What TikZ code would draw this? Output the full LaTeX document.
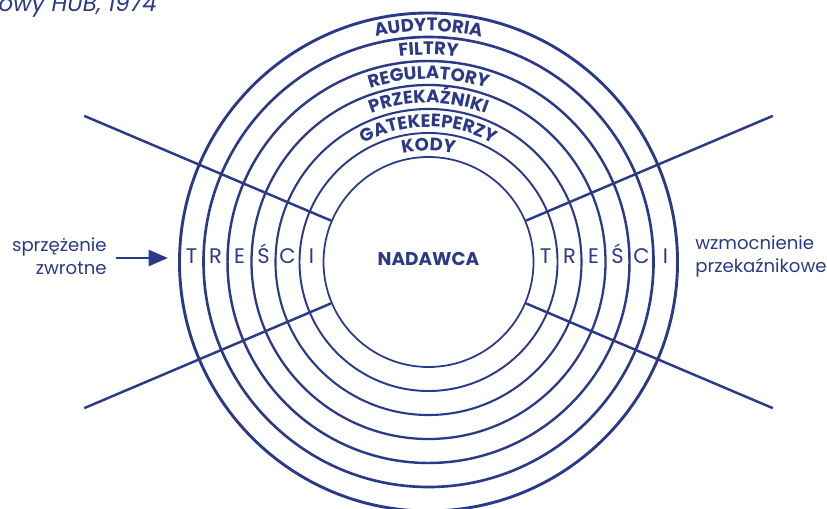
\documentclass[tikz,border=0pt]{standalone}
\usepackage{fontspec}
\setmainfont{Poppins}
\usetikzlibrary{arrows.meta,decorations.text}
\definecolor{hubblue}{RGB}{43,57,137}
\newcommand\ringfont{\bfseries\fontsize{10.3}{12}\selectfont\color{hubblue}}

\begin{document}
\begin{tikzpicture}[x=0.02cm, y=0.02cm,
    every node/.style={inner sep=0pt, text=hubblue},
    spoke/.style={draw=hubblue, line width=1.4pt},
    letter/.style={anchor=base, font=\fontsize{12}{14}\selectfont},
    side/.style={font=\fontsize{10.3}{13}\selectfont},
    ringtext/.style={decorate, decoration={text along path, text align=center, text={|\ringfont|#1}}},
    fbarrow/.style={draw=hubblue, line width=1.7pt, -{Triangle[length=11pt,width=9pt]}}]
  \useasboundingbox (0,0) rectangle (827,508);
  \coordinate (c) at (428.5,246);
  % HUB model rings
  \foreach \r/\w in {105/1.0, 129/1.1, 153/1.2, 177/1.3, 201/1.4, 225/1.5, 249/1.65} {
    \draw[hubblue, line width=\w pt] (c) circle (\r);
  }
  \node[font=\bfseries\fontsize{10.5}{12}\selectfont] (nadawca) at (428.5,249) {NADAWCA};
  % labels along the rings
  \foreach \r/\t in {231/AUDYTORIA, 207/FILTRY, 183/REGULATORY, 159/PRZEKAŹNIKI, 135/GATEKEEPERZY, 111/KODY} {
    \path[ringtext/.expand once=\t] (c) ++(170:\r) arc[start angle=170, end angle=10, radius=\r];
  }
  % spokes
  \foreach \a/\n in {157/ul, 203/ll, 23/ur, -23/lr} {
    \path (c) ++(\a:106) coordinate (\n-in) ++(\a:268) coordinate (\n-out);
    \draw[spoke] (\n-in) -- (\n-out);
  }
  % tresci, both sides
  \foreach \ch [count=\i] in {T,R,E,Ś,C,I} {
    \node[letter] (lt\i) at (167.5+24*\i,245) {\ch};
    \node[letter] (rt\i) at (521.5+24*\i,245) {\ch};
  }
  \node[side, align=right, anchor=east] (sprz) at (107,251.5) {sprzężenie\\zwrotne};
  \node[side, align=left, anchor=west] (wzm) at (695,251.5) {wzmocnienie\\przekaźnikowe};
  \coordinate (fb-a) at (116,250);
  \coordinate (fb-b) at (168,250);
  \draw[fbarrow] (fb-a) -- (fb-b);
  \node[font=\itshape\fontsize{13}{15}\selectfont, anchor=base east] (title) at (157,496) {łowy HUB, 1974};
\end{tikzpicture}
\end{document}
